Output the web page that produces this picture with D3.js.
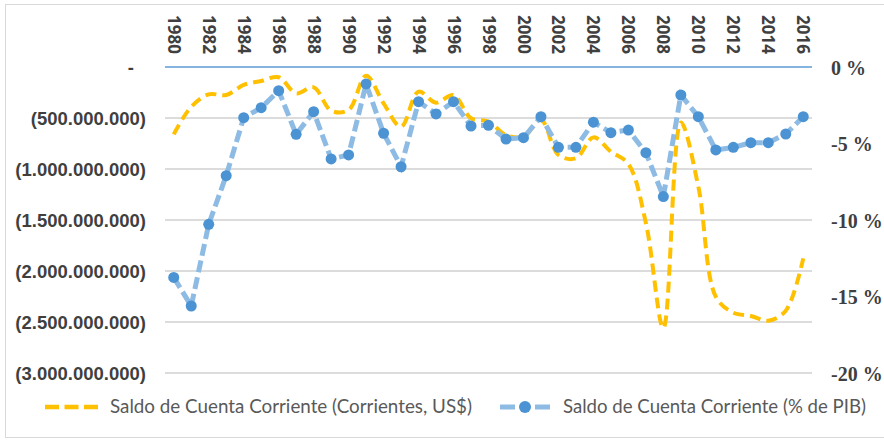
<!DOCTYPE html>
<html><head><meta charset="utf-8">
<script src="https://cdn.jsdelivr.net/npm/d3@7"></script>
<style>body{margin:0;background:#fff}svg{display:block}</style>
</head><body>
<svg id="c" width="884" height="441"></svg>
<script>
const years = d3.range(1980, 2017);
const usd = [-660e6,-390e6,-268e6,-275e6,-176e6,-137e6,-100e6,-258e6,-199e6,-428e6,-421e6,-85e6,-356e6,-585e6,-242e6,-350e6,-275e6,-503e6,-536e6,-667e6,-683e6,-520e6,-863e6,-895e6,-690e6,-830e6,-950e6,-1529e6,-2560e6,-545e6,-1173e6,-2252e6,-2409e6,-2441e6,-2487e6,-2389e6,-1876e6];
const pct = [-13.75,-15.62,-10.28,-7.1,-3.31,-2.66,-1.55,-4.4,-2.92,-6.01,-5.75,-1.11,-4.33,-6.52,-2.27,-3.07,-2.27,-3.86,-3.81,-4.71,-4.62,-3.25,-5.25,-5.25,-3.61,-4.29,-4.12,-5.6,-8.47,-1.83,-3.25,-5.42,-5.25,-4.95,-4.95,-4.38,-3.25];
const leftTicks = [0,-500e6,-1000e6,-1500e6,-2000e6,-2500e6,-3000e6];
const leftLabels = ["-","(500.000.000)","(1.000.000.000)","(1.500.000.000)","(2.000.000.000)","(2.500.000.000)","(3.000.000.000)"];
const rightTicks = [0,-5,-10,-15,-20];
const rightLabels = ["0 %","-5 %","-10 %","-15 %","-20 %"];
const xLabels = years.filter(y => (y - 1980) % 2 === 0).map(String);
const seriesNames = ["Saldo de Cuenta Corriente (Corrientes, US$)","Saldo de Cuenta Corriente (% de PIB)"];

const svg = d3.select("#c");
const L = 165, R = 812, T = 67, B = 373;
const x = d3.scaleBand().domain(years.map(String)).range([L, R]);
const xc = d => x(String(d)) + x.bandwidth()/2;
const yL = d3.scaleLinear().domain([0, -3000e6]).range([T, B]);
const yR = d3.scaleLinear().domain([0, -20]).range([T, B]);

svg.append("rect").attr("x",5.5).attr("y",4.5).attr("width",900).attr("height",433)
  .attr("fill","none").attr("stroke","#d9d9d9");

// gridlines
svg.append("g").selectAll("line").data(leftTicks.slice(1)).join("line")
  .attr("x1",L).attr("x2",R).attr("y1",d=>yL(d)).attr("y2",d=>yL(d))
  .attr("stroke","#d0d0d0").attr("stroke-width",1.3);
svg.append("line").attr("x1",L).attr("x2",R).attr("y1",yL(0)).attr("y2",yL(0))
  .attr("stroke","#5b9bd5").attr("stroke-width",1.5);

// left axis
const axL = d3.axisLeft(yL).tickValues(leftTicks).tickFormat((d,i)=>leftLabels[i]).tickSize(0).tickPadding(0);
const gL = svg.append("g").attr("transform","translate(146,0)").call(axL);
gL.select(".domain").remove();
gL.selectAll("text").attr("font-family","Liberation Sans").attr("font-weight","bold")
  .attr("font-size",18.5).attr("fill","#3f3f3f").attr("dy","0.35em");
gL.selectAll("text").filter((d,i)=>i===0).attr("transform","translate(-12,0)");

// right axis
const axR = d3.axisRight(yR).tickValues(rightTicks).tickFormat((d,i)=>rightLabels[i]).tickSize(0).tickPadding(0);
const gR = svg.append("g").attr("transform","translate(831,0)").call(axR);
gR.select(".domain").remove();
gR.selectAll("text").attr("font-family","Liberation Serif").attr("font-weight","bold")
  .attr("font-size",20).attr("fill","#3f3f3f").attr("dy","0.35em");

// top axis labels
svg.append("g").selectAll("text").data(xLabels).join("text")
  .attr("transform", d => `translate(${xc(d)},15) rotate(90)`)
  .attr("dy","0.35em").attr("font-family","Open Sans").attr("font-weight","bold")
  .attr("font-size",17).attr("fill","#404040").text(d=>d);

// orange line
const lineL = d3.line().x((d,i)=>xc(years[i])).y(d=>yL(d)).curve(d3.curveCatmullRom.alpha(0.5));
svg.append("path").datum(usd).attr("d",lineL).attr("fill","none")
  .attr("stroke","#ffc000").attr("stroke-width",4).attr("stroke-dasharray","11,6");

// blue line
const lineR = d3.line().x((d,i)=>xc(years[i])).y(d=>yR(d));
svg.append("path").datum(pct).attr("d",lineR).attr("fill","none")
  .attr("stroke","#8dbbe4").attr("stroke-width",5).attr("stroke-dasharray","12,5");
svg.append("g").selectAll("circle").data(pct).join("circle")
  .attr("cx",(d,i)=>xc(years[i])).attr("cy",d=>yR(d)).attr("r",5.5).attr("fill","#4b93d3");

// legend
const lg = svg.append("g");
lg.append("line").attr("x1",45).attr("x2",98).attr("y1",407).attr("y2",407)
  .attr("stroke","#ffc000").attr("stroke-width",4.5).attr("stroke-dasharray","14,5.5");
lg.append("text").attr("x",110).attr("y",407).attr("dy","0.35em").attr("font-family","Lato")
  .attr("font-size",18.5).attr("fill","#595959").attr("textLength",362)
  .attr("lengthAdjust","spacingAndGlyphs").text(seriesNames[0]);
lg.append("line").attr("x1",500).attr("x2",515).attr("y1",407).attr("y2",407)
  .attr("stroke","#8dbbe4").attr("stroke-width",5);
lg.append("line").attr("x1",535).attr("x2",550).attr("y1",407).attr("y2",407)
  .attr("stroke","#8dbbe4").attr("stroke-width",5);
lg.append("circle").attr("cx",525).attr("cy",407).attr("r",6).attr("fill","#4b93d3");
lg.append("text").attr("x",563).attr("y",407).attr("dy","0.35em").attr("font-family","Lato")
  .attr("font-size",18.5).attr("fill","#595959").attr("textLength",303)
  .attr("lengthAdjust","spacingAndGlyphs").text(seriesNames[1]);
</script>
</body></html>
